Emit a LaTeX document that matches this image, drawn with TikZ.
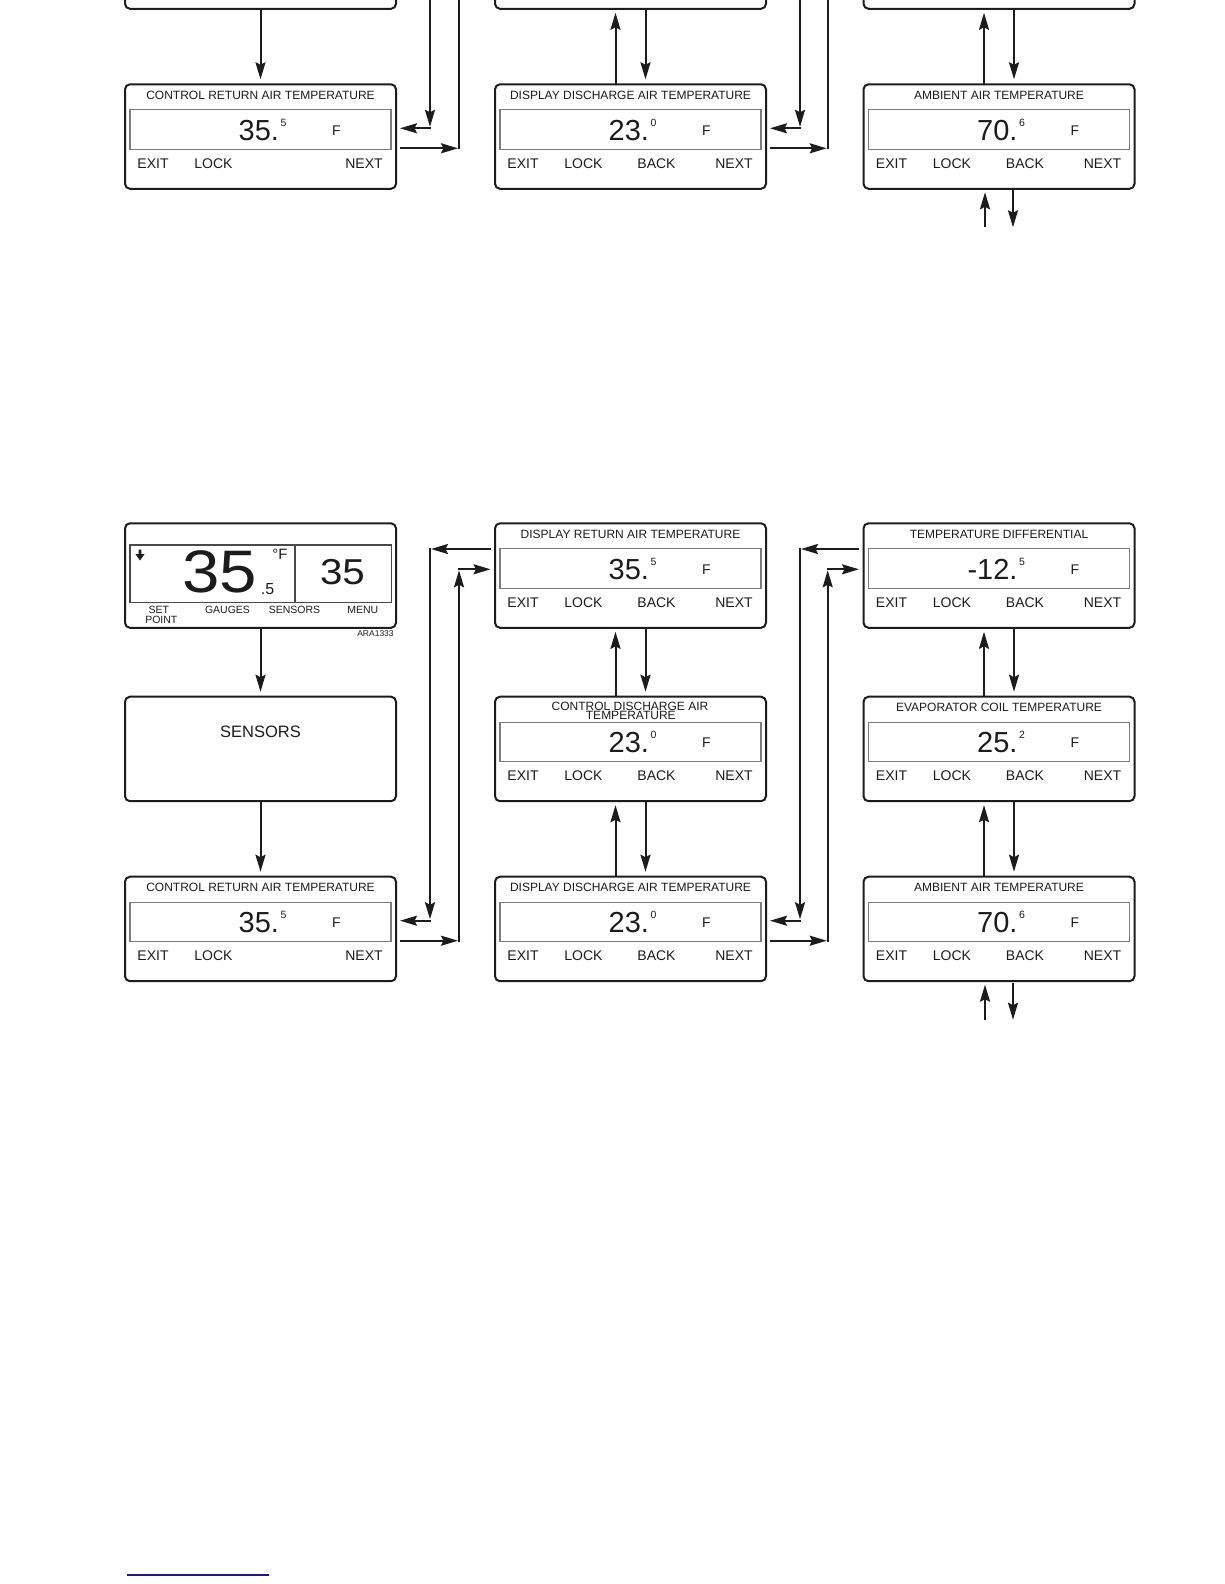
\documentclass[tikz,border=0pt]{standalone}
\usepackage{fontspec}
\setmainfont{Liberation Sans}
\usepackage{graphicx}
\usetikzlibrary{arrows.meta}

\definecolor{boxline}{RGB}{28,28,28}
\definecolor{innerline}{RGB}{125,125,125}
\definecolor{footline}{RGB}{25,25,140}

\tikzset{
 screenbox/.style={draw=boxline, line width=2pt, rounded corners=5pt, minimum width=271pt, minimum height=104.5pt, inner sep=0pt, outer sep=0pt, anchor=north west},
 innerbox/.style={draw=innerline, line width=1.3pt, minimum width=261pt, minimum height=39.5pt, inner sep=0pt, outer sep=0pt, anchor=north west},
 mainbox/.style={draw=boxline!80, line width=1.2pt, minimum width=261.7pt, minimum height=57.7pt, inner sep=0pt, outer sep=0pt, anchor=north west},
 lbl/.style={inner sep=0pt, outer sep=0pt, text=boxline},
 titletext/.style={lbl, font=\fontsize{12}{12}\selectfont},
 keytext/.style={lbl, font=\fontsize{14}{14}\selectfont},
 numtext/.style={lbl, anchor=east, font=\fontsize{29}{29}\selectfont},
 suptext/.style={lbl, anchor=west, font=\fontsize{10.5}{10.5}\selectfont},
 unittext/.style={lbl, font=\fontsize{14}{14}\selectfont},
 softtext/.style={lbl, font=\fontsize{10.5}{10.5}\selectfont},
 arr/.style={draw=boxline, line width=2pt, -{Stealth[length=17pt,width=10pt,inset=2.5pt]}},
}

\newif\ifupper
\newif\ifhidetext

% #1 name, #2 left, #3 top, #4 title, #5 integer, #6 decimal, #7 show BACK
\newcommand\tscreen[7]{%
  \node[screenbox] (#1) at (#2,#3) {};
  \ifhidetext\else
  \node[titletext] (#1-title) at ({#2+135.5},{#3+11}) {#4};
  \node[innerbox] (#1-disp) at ({#2+5},{#3+25.5}) {};
  \node[numtext] (#1-num) at ({#2+154},{#3+46}) {#5.};
  \node[suptext] (#1-sup) at ({#2+155.5},{#3+38.5}) {#6};
  \node[unittext] (#1-unit) at ({#2+211.5},{#3+46}) {F};
  \node[keytext] (#1-exit) at ({#2+28},{#3+79}) {EXIT};
  \node[keytext] (#1-lock) at ({#2+88.5},{#3+79}) {LOCK};
  \ifnum#7=1\relax \node[keytext] (#1-back) at ({#2+161.5},{#3+79}) {BACK};\fi
  \node[keytext] (#1-next) at ({#2+239},{#3+79}) {NEXT};
  \fi
}

\newcommand\fullchart[1]{%
\def\yo{#1}%
\pgfmathsetmacro\rA{523.3+\yo}%
\pgfmathsetmacro\rB{696.7+\yo}%
\pgfmathsetmacro\rC{876.7+\yo}%
\ifupper\hidetexttrue\else\hidetextfalse\fi
% main screen
\ifupper\else
\node[screenbox] (main) at (125,\rA) {};
\node[mainbox] (main-disp) at (130,{545+\yo}) {};
\draw[boxline!80, line width=1.2pt] ([xshift=165pt]main-disp.north west) -- ([xshift=165pt]main-disp.south west);
\fill[boxline] (138.6,{549.5+\yo}) -- (141.4,{549.5+\yo}) -- (141.4,{554+\yo}) -- (144.6,{554+\yo}) -- (140,{560.5+\yo}) -- (135.4,{554+\yo}) -- (138.6,{554+\yo}) -- cycle;
\node[lbl, font=\fontsize{60}{60}\selectfont] (main-temp) at (220,{572+\yo}) {\scalebox{1.12}[1]{35}};
\node[lbl, font=\fontsize{16}{16}\selectfont] (main-dec) at (267.5,{589.5+\yo}) {.5};
\node[lbl, font=\fontsize{15}{15}\selectfont] (main-unit) at (280,{554+\yo}) {°F};
\node[lbl, font=\fontsize{36}{36}\selectfont] (main-menu) at (342.5,{572+\yo}) {\scalebox{1.12}[1]{35}};
\node[softtext] (main-set) at (158.8,{609.5+\yo}) {SET};
\node[softtext] (main-point) at (161.3,{619.5+\yo}) {POINT};
\node[softtext] (main-gauges) at (227.5,{610+\yo}) {GAUGES};
\node[softtext] (main-sensors) at (294.5,{610+\yo}) {SENSORS};
\node[softtext] (main-menukey) at (362.8,{610+\yo}) {MENU};
\node[lbl, font=\fontsize{8.5}{8.5}\selectfont] (main-code) at (375.5,{633.7+\yo}) {ARA1333};
\fi
% sensors
\node[screenbox] (sens) at (125,\rB) {};
\ifhidetext\else
\node[lbl, font=\fontsize{16.5}{16.5}\selectfont] (sens-title) at (260.5,{731.7+\yo}) {SENSORS};
\fi
% screens
\tscreen{drt}{495}{\rA}{DISPLAY RETURN AIR TEMPERATURE}{35}{5}{1}
\tscreen{cda}{495}{\rB}{}{23}{0}{1}
\ifhidetext\else
\node[titletext] (cda-title1) at (630,{706+\yo}) {CONTROL DISCHARGE AIR};
\node[titletext] (cda-title2) at (630.8,{715.2+\yo}) {TEMPERATURE};
\fi
\tscreen{td}{863.5}{\rA}{TEMPERATURE DIFFERENTIAL}{-12}{5}{1}
\tscreen{evap}{863.5}{\rB}{EVAPORATOR COIL TEMPERATURE}{25}{2}{1}
\hidetextfalse
\tscreen{crt}{125}{\rC}{CONTROL RETURN AIR TEMPERATURE}{35}{5}{0}
\tscreen{dda}{495}{\rC}{DISPLAY DISCHARGE AIR TEMPERATURE}{23}{0}{1}
\tscreen{amb}{863.5}{\rC}{AMBIENT AIR TEMPERATURE}{70}{6}{1}
% vertical connectors
\ifupper\else
\draw[arr, shorten >=5pt] (main.south) -- (sens.north);
\fi
\draw[arr, shorten >=5pt] (sens.south) -- (crt.north);
\foreach \p/\q in {drt/cda, cda/dda, td/evap, evap/amb} {
  \draw[arr, shorten >=4pt] ([xshift=-15pt]\q.north) -- ([xshift=-15pt]\p.south);
  \draw[arr, shorten >=5pt] ([xshift=15pt]\p.south) -- ([xshift=15pt]\q.north);
}
\coordinate (amb-up) at ([xshift=-14pt,yshift=-38.5pt]amb.south);
\coordinate (amb-dn) at ([xshift=14pt,yshift=-38.5pt]amb.south);
\draw[arr, shorten >=3.5pt] (amb-up) -- ([xshift=-14pt]amb.south);
\draw[arr, shorten <=1.5pt] ([xshift=14pt]amb.south) -- (amb-dn);
% routed connectors
\coordinate (ka) at (430,{549+\yo});
\coordinate (kb) at (430,{920.7+\yo});
\coordinate (kc) at (459,{940.7+\yo});
\coordinate (kd) at (459,{569.3+\yo});
\coordinate (ma) at (800,{549+\yo});
\coordinate (mb) at (800,{920.7+\yo});
\coordinate (mc) at (827.7,{940.7+\yo});
\coordinate (md) at (827.7,{569.3+\yo});
\draw[arr, shorten <=4.5pt, shorten >=1pt] (drt.west |- ka) -- (ka);
\draw[arr, shorten <=-1pt, shorten >=1.5pt] (ka) -- (kb);
\draw[arr, shorten <=-1pt, shorten >=4pt] (kb) -- (crt.east |- kb);
\draw[arr, shorten <=4pt, shorten >=1pt] (crt.east |- kc) -- (kc);
\draw[arr, shorten <=-1pt, shorten >=1pt] (kc) -- (kd);
\draw[arr, shorten <=-1pt, shorten >=4.5pt] (kd) -- (drt.west |- kd);
\draw[arr, shorten <=4.5pt, shorten >=1pt] (td.west |- ma) -- (ma);
\draw[arr, shorten <=-1pt, shorten >=1.5pt] (ma) -- (mb);
\draw[arr, shorten <=-1pt, shorten >=4pt] (mb) -- (dda.east |- mb);
\draw[arr, shorten <=4pt, shorten >=1pt] (dda.east |- mc) -- (mc);
\draw[arr, shorten <=-1pt, shorten >=1pt] (mc) -- (md);
\draw[arr, shorten <=-1pt, shorten >=4.5pt] (md) -- (td.west |- md);
}

\begin{document}
\begin{tikzpicture}[x=1pt,y=-1pt]
\fill[white] (0,0) rectangle (1224,1584);
\useasboundingbox (0,0) rectangle (1224,1584);
\begin{scope}
  \clip (0,0) rectangle (1224,300);
  \begin{scope}[name prefix=up-]
    \uppertrue
    \fullchart{(-792.4)}
  \end{scope}
\end{scope}
\begin{scope}[name prefix=low-]
  \upperfalse
  \fullchart{0}
\end{scope}
\draw[footline, line width=1.3pt] (127,1575) -- (269,1575);
\end{tikzpicture}
\end{document}
